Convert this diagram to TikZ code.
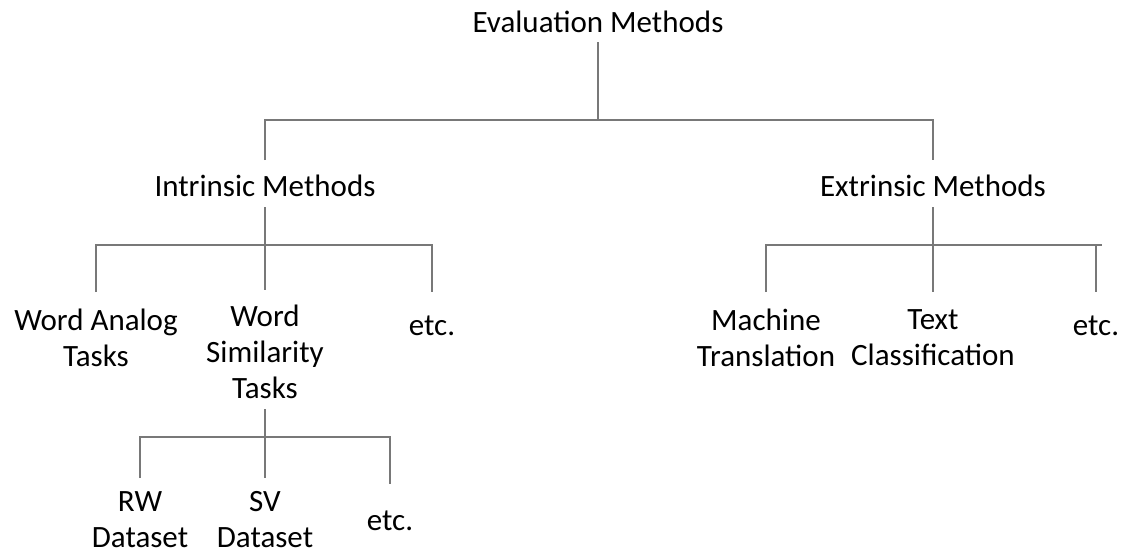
\documentclass[tikz,border=0pt]{standalone}
\usepackage{fontspec}
\setmainfont{Carlito}
\begin{document}
\begin{tikzpicture}[x=1pt,y=1pt,
  lbl/.style={inner sep=0pt,align=center,font=\fontsize{31}{36}\selectfont,text=black},
  conn/.style={draw={rgb,255:red,120;green,120;blue,120},line width=1.2pt}]
\useasboundingbox (0,0) rectangle (1121,-554);
% nodes
\node[lbl] (eval) at (598,-22) {Evaluation Methods};
\node[lbl] (intr) at (265,-186) {Intrinsic Methods};
\node[lbl] (extr) at (933,-186) {Extrinsic Methods};
\node[lbl] (wat)  at (96,-338) {Word Analog\\Tasks};
\node[lbl] (wst)  at (265,-352) {Word\\Similarity\\Tasks};
\node[lbl] (etc1) at (432,-326) {etc.};
\node[lbl] (mt)   at (766,-338) {Machine\\Translation};
\node[lbl] (tc)   at (933,-338) {Text\\Classification};
\node[lbl] (etc2) at (1096,-326) {etc.};
\node[lbl] (rw)   at (140,-520) {RW\\Dataset};
\node[lbl] (sv)   at (265,-520) {SV\\Dataset};
\node[lbl] (etc3) at (390,-521) {etc.};
% level 1
\draw[conn] (eval |- 0,-42) -- (eval |- 0,-120);
\draw[conn] (intr |- 0,-160) -- (intr |- 0,-120) -- (extr |- 0,-120) -- (extr |- 0,-160);
% intrinsic
\draw[conn] (intr |- 0,-207) -- (intr |- 0,-245);
\draw[conn] (wat |- 0,-292) -- (wat |- 0,-245) -- (etc1 |- 0,-245) -- (etc1 |- 0,-292);
\draw[conn] (wst |- 0,-245) -- (wst |- 0,-290);
% extrinsic
\draw[conn] (extr |- 0,-207) -- (extr |- 0,-245);
\draw[conn] (mt |- 0,-292) -- (mt |- 0,-245) -- ([xshift=6pt]etc2 |- 0,-245);
\draw[conn] (tc |- 0,-245) -- (tc |- 0,-292);
\draw[conn] (etc2 |- 0,-245) -- (etc2 |- 0,-292);
% similarity
\draw[conn] (wst |- 0,-409) -- (wst |- 0,-437);
\draw[conn] (rw |- 0,-478) -- (rw |- 0,-437) -- (etc3 |- 0,-437) -- (etc3 |- 0,-484);
\draw[conn] (sv |- 0,-437) -- (sv |- 0,-478);
\end{tikzpicture}
\end{document}
